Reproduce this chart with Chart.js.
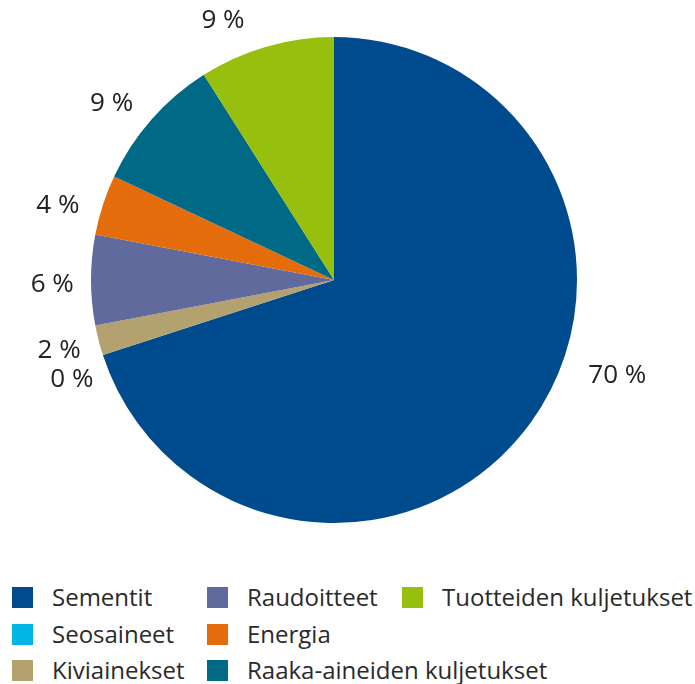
<!DOCTYPE html>
<html>
<head>
<meta charset="utf-8">
<script src="https://cdn.jsdelivr.net/npm/chart.js@4.4.1/dist/chart.umd.min.js"></script>
<style>
  body { margin: 0; background: #fff; font-family: "Open Sans", sans-serif; }
  #wrap { position: relative; width: 695px; height: 684px; }
  #chart { position: absolute; left: 0; top: 0; }
  .legend { position: absolute; left: 0; top: 580px; width: 695px; }
  .item { position: absolute; display: flex; align-items: center; font-size: 24px; line-height: 30px; color: #2a2a2a; white-space: nowrap; }
  .box { width: 21px; height: 21px; margin-right: 19px; flex: none; }
</style>
</head>
<body>
<div id="wrap">
  <canvas id="chart" width="695" height="560"></canvas>
  <div class="legend" id="legend"></div>
</div>
<script>
// categories in drawing order (clockwise from top)
const categories = ['Sementit', 'Seosaineet', 'Kiviainekset', 'Raudoitteet', 'Energia', 'Raaka-aineiden kuljetukset', 'Tuotteiden kuljetukset'];
const shares = [70, 0, 2, 6, 4, 9, 9];
const colors = ['#004b8d', '#00b6e4', '#b3a26f', '#616a9c', '#e56c0a', '#006a86', '#97bf0d'];

// percentage labels outside the slices
const outsideLabels = {
  id: 'outsideLabels',
  afterDraw(chart, args, opts) {
    const ctx = chart.ctx;
    const meta = chart.getDatasetMeta(0);
    ctx.save();
    ctx.font = opts.font;
    ctx.fillStyle = opts.color;
    ctx.textAlign = 'center';
    ctx.textBaseline = 'middle';
    const boxes = [];
    // place from the last slice backwards so that crowded small slices get pushed down
    for (let i = meta.data.length - 1; i >= 0; i--) {
      const p = meta.data[i].getProps(['x', 'y', 'startAngle', 'endAngle', 'outerRadius'], true);
      const text = shares[i] + ' %';
      const w = ctx.measureText(text).width + 6;
      const h = 28;
      const mid = (p.startAngle + p.endAngle) / 2 + (opts.shift[i] || 0) * Math.PI / 180;
      const c = Math.cos(mid), s = Math.sin(mid);
      const dist = p.outerRadius + opts.gap[i] + Math.abs(c) * w / 2 + Math.abs(s) * 12;
      let x = p.x + c * dist, y = p.y + s * dist;
      boxes.forEach(b => {
        if (Math.abs(x - b.x) < (w + b.w) / 2 && Math.abs(y - b.y) < h) {
          y = b.y + (y >= b.y ? h + 1 : -h - 1);
          x += 8;
        }
      });
      boxes.push({ x, y, w });
      ctx.fillText(text, x, y);
    }
    ctx.restore();
  }
};

new Chart(document.getElementById('chart'), {
  type: 'pie',
  data: {
    labels: categories,
    datasets: [{ data: shares, backgroundColor: colors, borderWidth: 0 }]
  },
  options: {
    responsive: false,
    animation: false,
    layout: { padding: { top: 37, bottom: 37, left: 0, right: 27 } },
    plugins: {
      legend: { display: false },
      tooltip: { enabled: false },
      outsideLabels: {
        font: '26px "Open Sans", sans-serif',
        color: '#222',
        shift: [-17.3, 0, 0, -1, -3, -3, -7],
        gap: [22, 14, 14, 14, 16, 14, 18]
      }
    }
  },
  plugins: [outsideLabels]
});

// legend: three columns, filled column by column
const legend = document.getElementById('legend');
const colX = [12, 207, 402];
const rowY = [2, 39, 75];
categories.forEach((name, i) => {
  const col = Math.floor(i / 3), row = i % 3;
  const el = document.createElement('div');
  el.className = 'item';
  el.style.left = colX[col] + 'px';
  el.style.top = rowY[row] + 'px';
  el.innerHTML = '<span class="box" style="background:' + colors[i] + '"></span>' + name;
  legend.appendChild(el);
});
</script>
</body>
</html>
